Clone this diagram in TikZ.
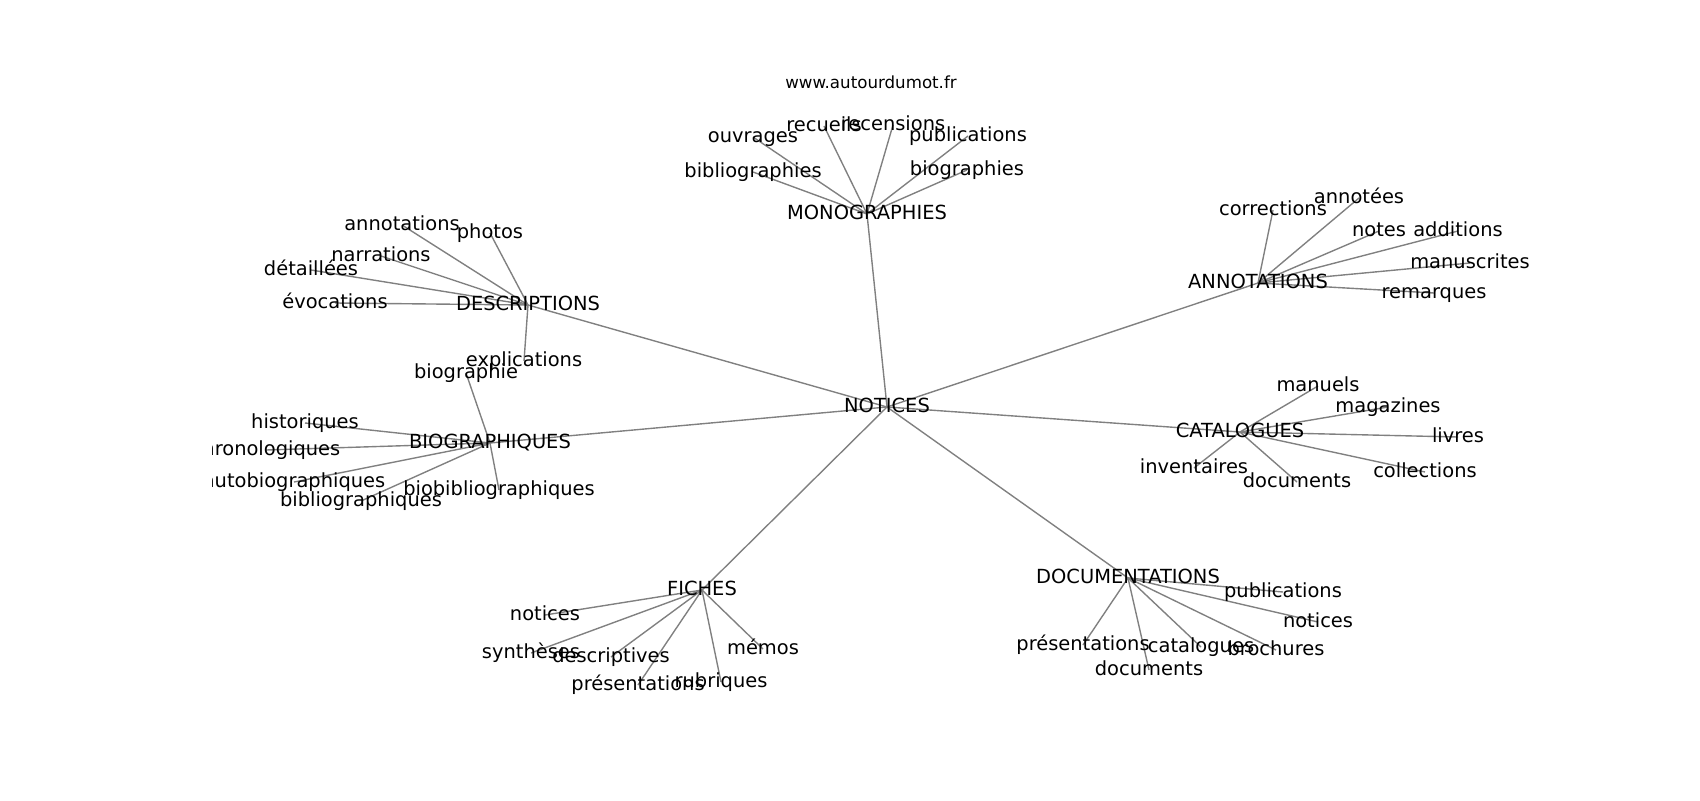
\documentclass[tikz,border=0pt]{standalone}
\usepackage{fontspec}
\setmainfont{DejaVu Sans}
\usetikzlibrary{backgrounds}
\begin{document}
\begin{tikzpicture}[x=0.72pt,y=-0.72pt,
  lbl/.style={inner sep=0pt,font=\fontsize{14}{16}\selectfont,text height=10.64pt,text depth=3.3pt},
  edge/.style={gray,line width=1pt}]
\useasboundingbox (0,0) rectangle (1700,800);
%\draw [help lines,black!20!white] (0,0) grid[step=100] (1700,800);

\node[font=\fontsize{12}{14}\selectfont,anchor=base,inner sep=0pt] (title) at (871,88) {www.autourdumot.fr};

\begin{scope}
\clip (212.5,96) rectangle (1530,712);
% hubs
\node[lbl] (notices) at (887,407) {NOTICES};
\node[lbl] (mono) at (867,214) {MONOGRAPHIES};
\node[lbl] (desc) at (528,305) {DESCRIPTIONS};
\node[lbl] (biog) at (490,443) {BIOGRAPHIQUES};
\node[lbl] (annot) at (1258,283) {ANNOTATIONS};
\node[lbl] (catal) at (1240,432) {CATALOGUES};
\node[lbl] (docum) at (1128,578) {DOCUMENTATIONS};
\node[lbl] (fiches) at (702,590) {FICHES};

% leaves
\foreach \n/\x/\y/\t in {m1/753/137/ouvrages, m2/824/126/recueils, m3/893/125/recensions,
    m4/968/136/publications, m5/753/172/bibliographies, m6/967/170/biographies}
  \node[lbl] (\n) at (\x,\y) {\t};
\foreach \n/\x/\y/\t in {d1/402/225/annotations, d2/490/233/photos, d3/381/256/narrations,
    d4/311/270/détaillées, d5/335/303/évocations, d6/524/361/explications}
  \node[lbl] (\n) at (\x,\y) {\t};
\foreach \n/\x/\y/\t in {b1/466/373/biographie, b2/305/423/historiques, b3/266/450/chronologiques,
    b4/294/482/autobiographiques, b5/361/501/bibliographiques, b6/499/490/biobibliographiques}
  \node[lbl] (\n) at (\x,\y) {\t};
\foreach \n/\x/\y/\t in {a1/1273/210/corrections, a2/1359/198/annotées, a3/1379/231/notes,
    a4/1458/231/additions, a5/1470/263/manuscrites, a6/1434/293/remarques}
  \node[lbl] (\n) at (\x,\y) {\t};
\foreach \n/\x/\y/\t in {c1/1318/386/manuels, c2/1388/407/magazines, c3/1458/437/livres,
    c4/1194/468/inventaires, c5/1297/482/documents, c6/1425/472/collections}
  \node[lbl] (\n) at (\x,\y) {\t};
\foreach \n/\x/\y/\t in {o1/1283/592/publications, o2/1318/622/notices, o3/1083/645/présentations,
    o4/1201/647/catalogues, o5/1276/650/brochures, o6/1149/670/documents}
  \node[lbl] (\n) at (\x,\y) {\t};
\foreach \n/\x/\y/\t in {f1/545/615/notices, f2/531/653/synthèses, f3/611/657/descriptives,
    f4/638/685/présentations, f5/721/682/rubriques, f6/763/649/mémos}
  \node[lbl] (\n) at (\x,\y) {\t};
\end{scope}

\begin{scope}[on background layer]
\foreach \h in {mono,desc,biog,annot,catal,docum,fiches}
  \draw[edge] (notices.center) -- (\h.center);
\foreach \h/\p in {mono/m,desc/d,biog/b,annot/a,catal/c,docum/o,fiches/f}
  \foreach \i in {1,...,6}
    \draw[edge] (\h.center) -- (\p\i.center);
\end{scope}

\end{tikzpicture}
\end{document}
